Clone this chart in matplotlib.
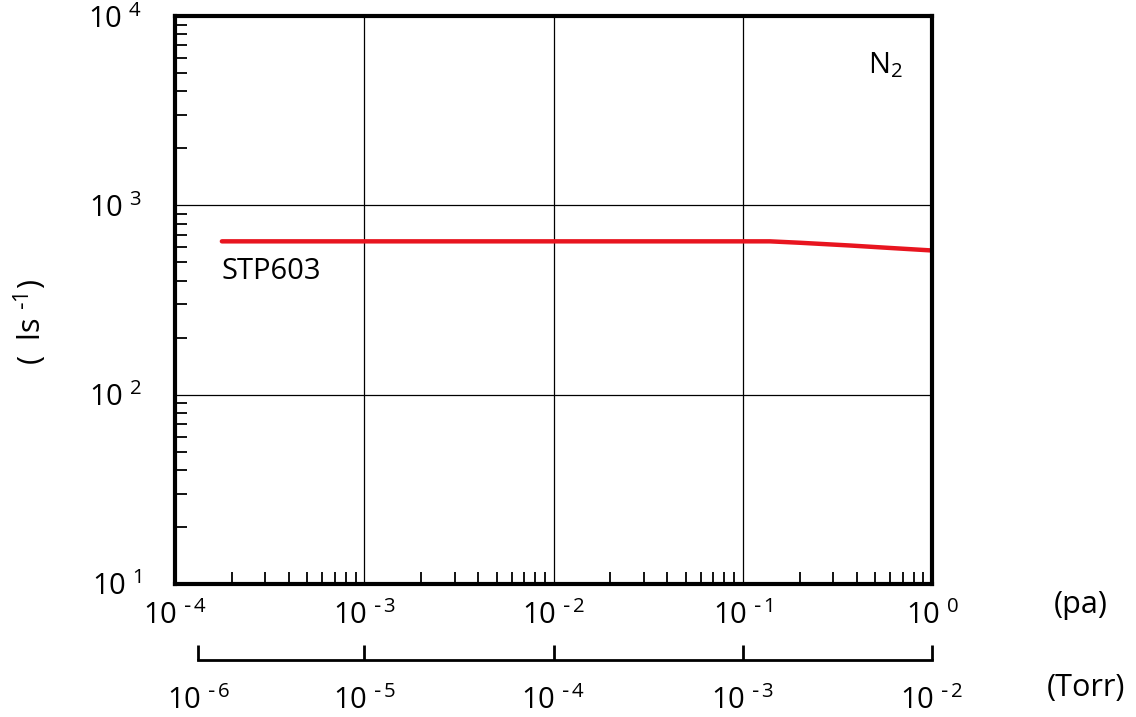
import numpy as np
import matplotlib.pyplot as plt
from matplotlib.ticker import LogLocator, NullFormatter

plt.rcParams['font.family'] = ['Open Sans', 'DejaVu Sans']
plt.rcParams['mathtext.default'] = 'regular'

# pumping speed curve (N2)
pressure_pa = [1.77e-4, 1e-3, 1e-2, 0.1, 0.139, 0.2, 0.37, 0.6, 1.0]
speed_ls = [646, 646, 646, 646, 646, 635, 614, 596, 578]

pa_ticks = [1e-4, 1e-3, 1e-2, 1e-1, 1e0]
pa_labels = ['-4', '-3', '-2', '-1', '0']
# Torr scale as drawn in the picture (positions given on the Pa scale)
torr_tick_pos = [1.33e-4, 1e-3, 1e-2, 1e-1, 1e0]
torr_labels = ['-6', '-5', '-4', '-3', '-2']
y_ticks = [1e1, 1e2, 1e3, 1e4]
y_labels = ['1', '2', '3', '4']

FS = 21


def pow10(e):
    e = e.replace('-', r'\text{-}\,')
    return r'$10^{\ ' + e + '}$'


fig = plt.figure(figsize=(11.36, 7.17), dpi=100)
ax = fig.add_axes([0.154, 0.1855, 0.6665, 0.792])
ax.set_xscale('log')
ax.set_yscale('log')
ax.set_xlim(1e-4, 1)
ax.set_ylim(10, 1e4)

ax.plot(pressure_pa, speed_ls, color='#e8151f', lw=3.2, solid_capstyle='round')

ax.grid(which='major', color='black', lw=0.9)
for s in ax.spines.values():
    s.set_linewidth(3)

ax.xaxis.set_minor_locator(LogLocator(base=10, subs=np.arange(2, 10)))
ax.yaxis.set_minor_locator(LogLocator(base=10, subs=np.arange(2, 10)))
ax.xaxis.set_minor_formatter(NullFormatter())
ax.yaxis.set_minor_formatter(NullFormatter())
ax.set_xticks(pa_ticks)
ax.set_xticklabels([pow10(e) for e in pa_labels])
ax.set_yticks(y_ticks)
ax.set_yticklabels([pow10(e) for e in y_labels])
ax.tick_params(which='minor', direction='in', length=8.6, width=1.3,
               top=False, right=False)
ax.tick_params(which='major', direction='in', length=0, labelsize=FS)
ax.tick_params(axis='x', which='major', pad=12)
ax.tick_params(axis='y', which='major', pad=24)

ax.set_ylabel(r'(  ls $^{\text{-}1}$)', fontsize=22)
ax.yaxis.set_label_coords(-0.166, 0.461)

ax.text(0.938, 0.914, r'N$_2$', transform=ax.transAxes, fontsize=21,
        ha='center', va='center')
ax.text(0.062, 0.551, 'STP603', transform=ax.transAxes, fontsize=21,
        ha='left', va='center')

# second scale in Torr under the Pa axis
tx = fig.add_axes([0.154, 0.0795, 0.6665, 0.001])
tx.set_xscale('log')
tx.set_xlim(1e-4, 1)
tx.patch.set_visible(False)
for side in ['top', 'left', 'right']:
    tx.spines[side].set_visible(False)
tx.spines['bottom'].set_linewidth(2)
tx.spines['bottom'].set_bounds(torr_tick_pos[0], torr_tick_pos[-1])
tx.set_yticks([])
tx.xaxis.set_minor_locator(plt.NullLocator())
tx.set_xticks(torr_tick_pos)
tx.set_xticklabels([pow10(e) for e in torr_labels])
tx.tick_params(axis='x', direction='in', length=11, width=2, labelsize=FS, pad=19)

fig.text(1081 / 1136, 1 - 605 / 717, '(pa)', fontsize=22, ha='center', va='center')
fig.text(1086 / 1136, 1 - 688 / 717, '(Torr)', fontsize=22, ha='center', va='center')

fig.savefig('out.png', dpi=100)
